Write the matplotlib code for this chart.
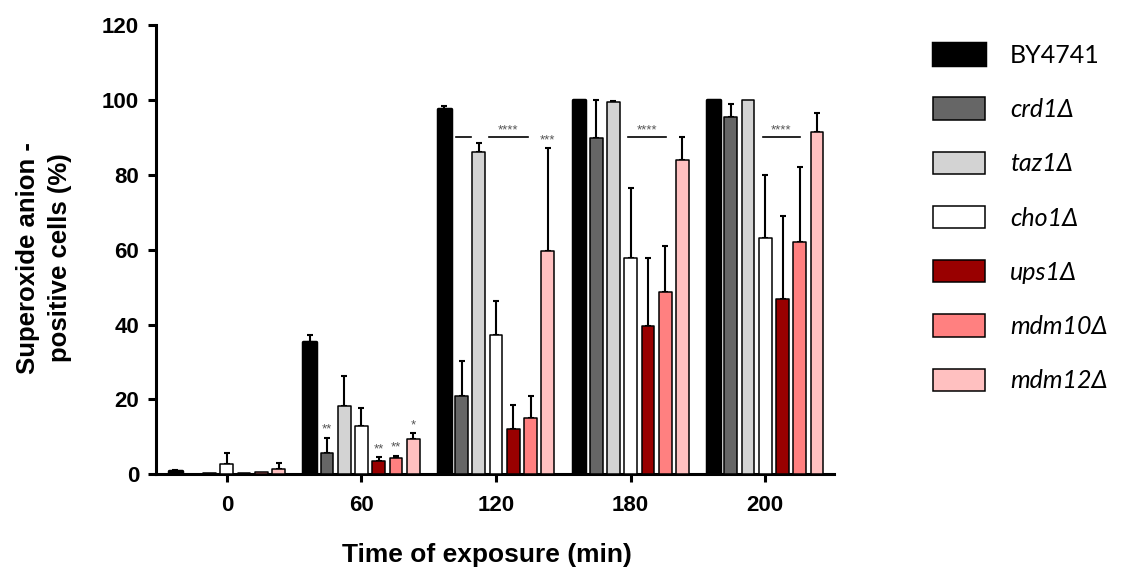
import numpy as np
import matplotlib
matplotlib.use("Agg")
import matplotlib.pyplot as plt

# data (% superoxide anion positive cells)
times = ["0", "60", "120", "180", "200"]
strains = ["BY4741", "crd1Δ", "taz1Δ", "cho1Δ", "ups1Δ", "mdm10Δ", "mdm12Δ"]
colors = ["#000000", "#666666", "#d3d3d3", "#ffffff", "#990000", "#ff8080", "#ffc0c0"]

by4741 = [0.8, 35.4, 97.5, 100.0, 100.0]
crd1 = [0.0, 5.7, 20.8, 89.7, 95.5]
taz1 = [0.3, 18.2, 86.1, 99.5, 100.0]
cho1 = [2.8, 13.0, 37.3, 57.9, 63.2]
ups1 = [0.2, 3.5, 12.0, 39.5, 46.9]
mdm10 = [0.5, 4.4, 15.1, 48.6, 62.1]
mdm12 = [1.5, 9.3, 59.6, 83.9, 91.5]

by4741_err = [0.3, 1.7, 1.0, 0.0, 0.0]
crd1_err = [0.0, 4.1, 9.4, 10.3, 3.5]
taz1_err = [0.0, 8.0, 2.5, 0.3, 0.0]
cho1_err = [3.0, 4.8, 8.9, 18.6, 16.7]
ups1_err = [0.0, 1.0, 6.4, 18.4, 22.2]
mdm10_err = [0.0, 0.6, 5.7, 12.3, 19.9]
mdm12_err = [1.6, 1.7, 27.6, 6.2, 5.1]

means = [by4741, crd1, taz1, cho1, ups1, mdm10, mdm12]
errs = [by4741_err, crd1_err, taz1_err, cho1_err, ups1_err, mdm10_err, mdm12_err]

# stars above single bars: (time index, strain index, label)
stars = [(1, 1, "**"), (1, 4, "**"), (1, 5, "**"), (1, 6, "*"), (2, 6, "***")]
# comparison lines: (time index, from, to, label)
sig_lines = [(2, -0.297, -0.188, ""), (2, -0.052, 0.236, "****"),
             (3, -0.020, 0.260, "****"), (4, -0.020, 0.260, "****")]
sig_y = 90

plt.rcParams['font.family'] = ['Liberation Sans', 'DejaVu Sans']

fig = plt.figure(figsize=(11.29, 5.70), dpi=100)
ax = fig.add_axes([0.138, 0.168, 0.601, 0.788])

step = 0.128
width = 0.095
xg = np.arange(len(times))
for i in range(len(strains)):
    x = xg + (i - 3) * step
    lw = 2.5 if i == 0 else 1.1
    ax.bar(x, means[i], width, color=colors[i], edgecolor="black", linewidth=lw,
           joinstyle="round", zorder=3, label=strains[i])
    e = np.array(errs[i])
    m = np.array(means[i])
    keep = e > 0
    ax.errorbar(x[keep], m[keep], yerr=[np.zeros(keep.sum()), e[keep]], fmt="none",
                ecolor="black", elinewidth=1.5, capsize=2.5, capthick=1.5, zorder=2)

for g, s, lab in stars:
    x = g + (s - 3) * step
    top = means[s][g] + errs[s][g]
    ax.text(x, top + 0.5, lab, ha="center", va="bottom", fontsize=9.5, color="#555555")

for g, a, b, lab in sig_lines:
    ax.plot([g + a, g + b], [sig_y, sig_y], color="black", lw=1.2, zorder=4)
    if lab:
        ax.text(g + (a + b) / 2, sig_y + 0.3, lab, ha="center", va="bottom",
                fontsize=9.5, color="#555555")

ax.set_xlim(-0.528, 4.513)
ax.set_ylim(0, 120)
ax.set_yticks(np.arange(0, 121, 20))
ax.set_xticks(xg)
ax.set_xticklabels(times)
for sp in ["top", "right"]:
    ax.spines[sp].set_visible(False)
for sp in ["left", "bottom"]:
    ax.spines[sp].set_linewidth(2.2)
ax.tick_params(axis="both", width=2.2, length=6, labelsize=16)
for t in ax.get_xticklabels() + ax.get_yticklabels():
    t.set_fontweight("bold")
ax.tick_params(axis="x", pad=9)
ax.tick_params(axis="y", pad=6)

fig.text(44 / 1129, 1 - 258 / 570, "Superoxide anion -\npositive cells (%)",
         rotation=90, ha="center", va="center", multialignment="center",
         fontsize=18.5, fontweight="bold", linespacing=1.4)
fig.text(487 / 1129, 1 - 555 / 570, "Time of exposure (min)", ha="center",
         va="center", fontsize=19, fontweight="bold")

leg = fig.legend(loc="upper left", bbox_to_anchor=(933 / 1129, 1 - 43 / 570),
                 frameon=False, borderpad=0, borderaxespad=0,
                 prop={"family": ["Lato", "DejaVu Sans"], "size": 18},
                 handlelength=2.08, handleheight=1.0, labelspacing=1.22,
                 handletextpad=1.0)
for i, t in enumerate(leg.get_texts()):
    if i > 0:
        t.set_style("italic")

fig.savefig("out.png", dpi=100)
